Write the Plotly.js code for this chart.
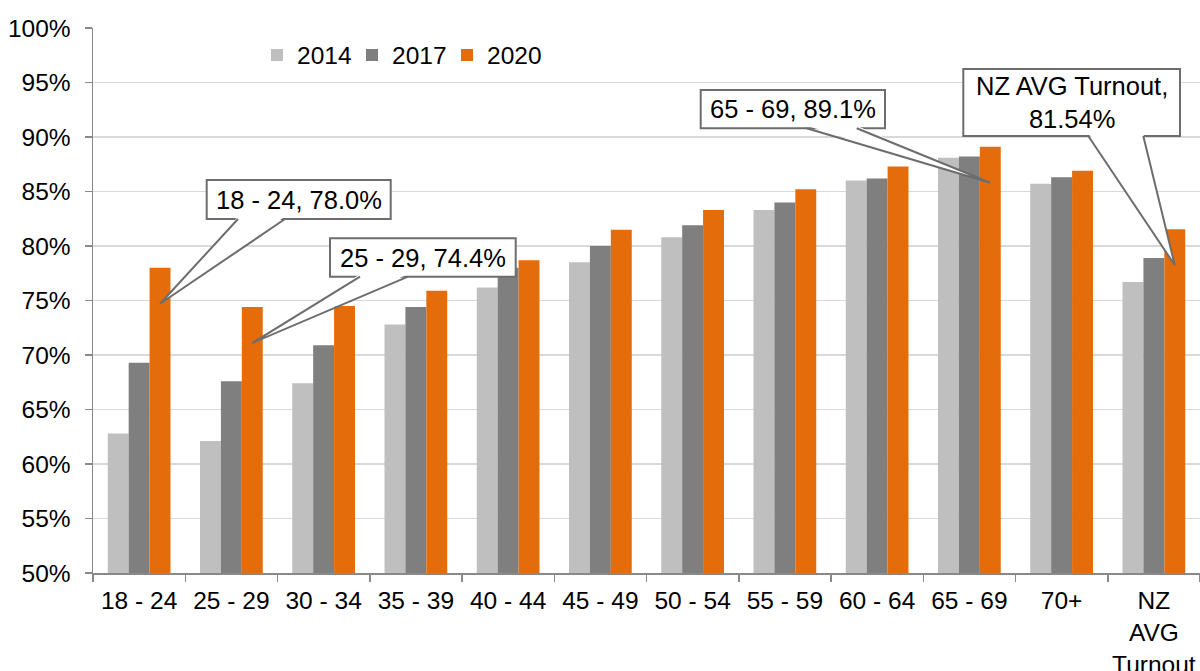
<!DOCTYPE html>
<html>
<head>
<meta charset="utf-8">
<script src="https://cdn.plot.ly/plotly-3.0.1.min.js"></script>
<style>
  html, body { margin: 0; padding: 0; background: #ffffff; }
  #chart { width: 1200px; height: 671px; }
</style>
</head>
<body>
<div id="chart"></div>
<script>
// ---------- DATA ----------
const categories = ['18 - 24', '25 - 29', '30 - 34', '35 - 39', '40 - 44', '45 - 49',
                    '50 - 54', '55 - 59', '60 - 64', '65 - 69', '70+', 'NZ<br>AVG<br>Turnout'];
const seriesNames = ['2014', '2017', '2020'];
const turnout2014 = [62.8, 62.1, 67.4, 72.8, 76.2, 78.5, 80.8, 83.3, 86.0, 88.1, 85.7, 76.7];
const turnout2017 = [69.3, 67.6, 70.9, 74.4, 78.0, 80.0, 81.9, 84.0, 86.2, 88.2, 86.3, 78.9];
const turnout2020 = [78.0, 74.4, 74.5, 75.9, 78.7, 81.5, 83.3, 85.2, 87.3, 89.1, 86.9, 81.54];
const yTickVals = [50, 55, 60, 65, 70, 75, 80, 85, 90, 95, 100];

// callouts (label text + which category of the 2020 series they point to)
const calloutCats = [0, 1, 9, 11];
const calloutTexts = ['18 - 24, 78.0%', '25 - 29, 74.4%', '65 - 69, 89.1%', 'NZ AVG Turnout,<br>81.54%'];

// ---------- LAYOUT GEOMETRY ----------
const W = 1200, H = 671;
const M = { l: 93, r: 0, t: 28, b: 98 };
const Y_RANGE = [50, 100];
const X_RANGE = [-0.5, categories.length - 0.5];
const BARGAP = 0.32;
const plotW = W - M.l - M.r, plotH = H - M.t - M.b;
const px2x = px => X_RANGE[0] + (px - M.l) / plotW * (X_RANGE[1] - X_RANGE[0]);
const px2y = py => Y_RANGE[0] + (H - M.b - py) / plotH * (Y_RANGE[1] - Y_RANGE[0]);

// callout box placements in pixels: [left, top, right, bottom], wedge base [xL, xR]
const calloutBoxes = [
  [206.7, 180, 390.7, 219],
  [330, 238.3, 515.7, 276.7],
  [700.7, 90, 885, 128.3],
  [963.3, 69, 1180, 136]
];
const calloutBases = [[238, 285], [360, 408], [806.7, 856.7], [1088.3, 1143.3]];
const TIP_DROP = 3.3;           // pointer ends a little below the bar top
const BORDER = '#6d6d6d';

const FONT = 'Arial, "Liberation Sans", sans-serif';
const colors = ['#BFBFBF', '#7F7F7F', '#E46C0A'];
const allSeries = [turnout2014, turnout2017, turnout2020];

const traces = allSeries.map((vals, i) => ({
  type: 'bar',
  name: seriesNames[i],
  x: categories,
  y: vals,
  marker: { color: colors[i], line: { width: 0 } },
  hoverinfo: 'skip'
}));

const shapes = [];
const annotations = [];
const barW = (1 - BARGAP) / 3;
calloutCats.forEach((ci, k) => {
  const [l, t, r, b] = calloutBoxes[k];
  const [bl, br] = calloutBases[k];
  const tipX = ci + barW;                         // centre of 2020 bar
  const tipY = turnout2020[ci] - TIP_DROP;
  const x0 = px2x(l), x1 = px2x(r), y0 = px2y(b), y1 = px2y(t);
  const xbL = px2x(bl), xbR = px2x(br);
  const yIn = px2y(b - 2.5);
  shapes.push({
    type: 'rect', xref: 'x', yref: 'y', layer: 'above',
    x0: x0, x1: x1, y0: y0, y1: y1,
    fillcolor: '#ffffff', line: { color: BORDER, width: 2 }
  });
  shapes.push({
    type: 'path', xref: 'x', yref: 'y', layer: 'above',
    path: `M ${xbL} ${yIn} L ${tipX} ${tipY} L ${xbR} ${yIn} Z`,
    fillcolor: '#ffffff', line: { width: 0 }
  });
  shapes.push({
    type: 'path', xref: 'x', yref: 'y', layer: 'above',
    path: `M ${xbL} ${y0} L ${tipX} ${tipY} L ${xbR} ${y0}`,
    fillcolor: 'rgba(0,0,0,0)', line: { color: BORDER, width: 2 }
  });
  annotations.push({
    xref: 'x', yref: 'y', x: (x0 + x1) / 2, y: (y0 + y1) / 2,
    xanchor: 'center', yanchor: 'middle', showarrow: false, align: 'center',
    text: calloutTexts[k],
    font: { family: FONT, size: 25.5, color: '#000000' }
  });
});

const layout = {
  width: W, height: H,
  margin: M,
  paper_bgcolor: '#ffffff',
  plot_bgcolor: '#ffffff',
  font: { family: FONT, size: 24.5, color: '#000000' },
  barmode: 'group',
  bargap: BARGAP,
  bargroupgap: 0,
  showlegend: true,
  legend: {
    orientation: 'h',
    x: (257 - M.l) / plotW, xanchor: 'left',
    y: (H - M.b - 55) / plotH, yanchor: 'middle',
    bgcolor: 'rgba(0,0,0,0)',
    entrywidth: 50,
    font: { family: FONT, size: 24.5, color: '#000000' },
    itemclick: false, itemdoubleclick: false
  },
  xaxis: {
    type: 'category',
    range: X_RANGE,
    showgrid: false,
    showline: true, linecolor: '#898989', linewidth: 1.5,
    ticks: 'outside', tickson: 'boundaries', ticklen: 7, tickcolor: '#898989', tickwidth: 1.5,
    tickfont: { family: FONT, size: 24.5, color: '#000000' },
    ticklabelstandoff: 5,
    tickangle: 0,
    fixedrange: true
  },
  yaxis: {
    range: Y_RANGE,
    tickvals: yTickVals,
    ticktext: yTickVals.map(v => v + '%'),
    showgrid: true, gridcolor: '#D9D9D9', gridwidth: 1.2,
    zeroline: false,
    showline: true, linecolor: '#898989', linewidth: 1.5,
    ticks: 'outside', ticklen: 7, tickcolor: '#898989', tickwidth: 1.5,
    tickfont: { family: FONT, size: 24.5, color: '#000000' },
    ticklabelstandoff: 9,
    fixedrange: true
  },
  shapes: shapes,
  annotations: annotations
};

Plotly.newPlot('chart', traces, layout, { displayModeBar: false, staticPlot: true });
</script>
</body>
</html>
